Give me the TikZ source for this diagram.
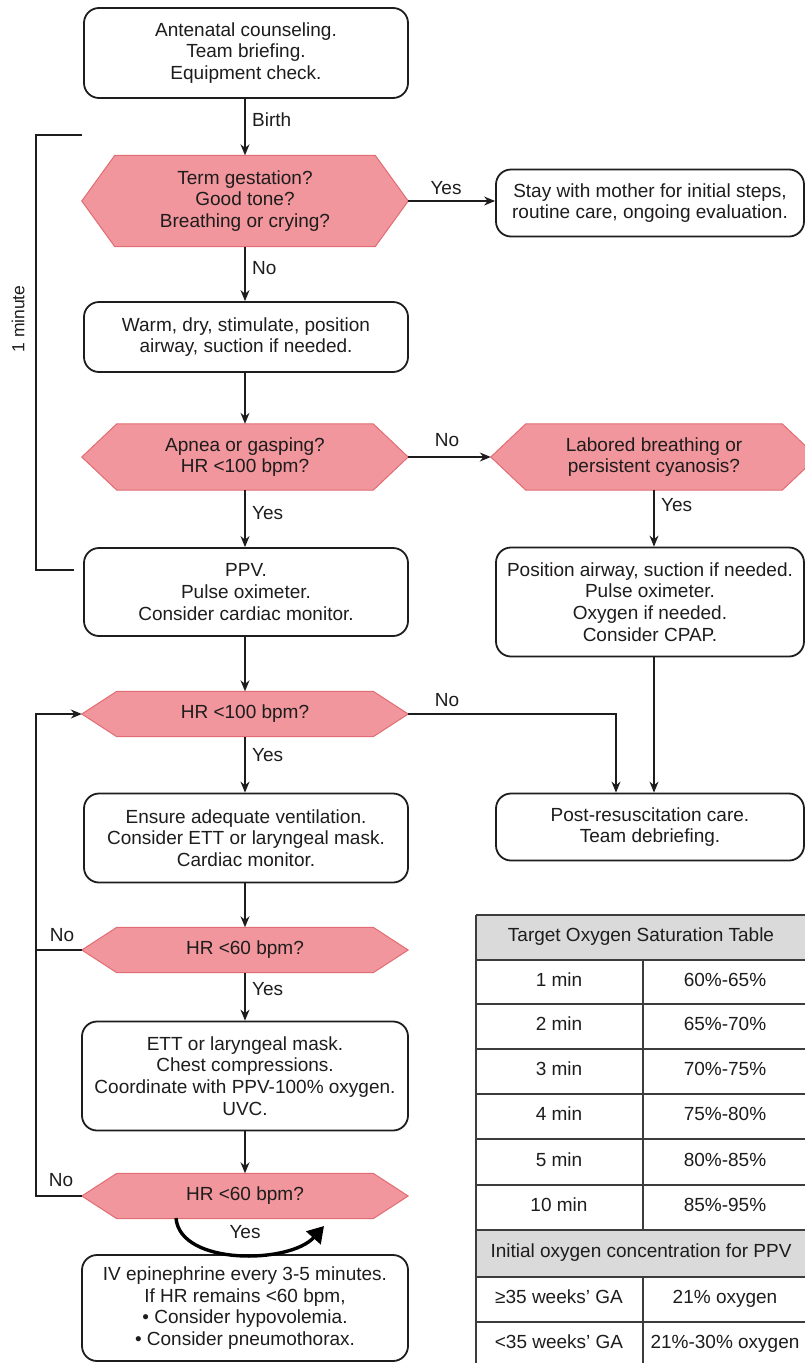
\documentclass[tikz,border=0pt]{standalone}
\usepackage{fontspec}
\setmainfont{Liberation Sans}
\usetikzlibrary{arrows.meta,backgrounds,calc}
\definecolor{hexfill}{RGB}{240,150,156}
\definecolor{hexline}{RGB}{226,108,115}
\definecolor{ink}{RGB}{30,28,28}
\definecolor{headgray}{RGB}{218,218,218}
\definecolor{tabline}{RGB}{60,60,60}
\newcommand\hexpath[2]{%
  \path[hexshape] ([xshift=#2]#1.north west) -- ([xshift=-#2]#1.north east) -- (#1.east)
   -- ([xshift=-#2]#1.south east) -- ([xshift=#2]#1.south west) -- (#1.west) -- cycle;}
\begin{document}
\begin{tikzpicture}[x=1pt,y=-1pt,
  txt/.style={font=\fontsize{19}{21.8}\selectfont, text=ink, align=center},
  rbox/.style={txt, draw=ink, line width=1.8pt, rounded corners=15pt, fill=white, inner sep=2pt},
  hexa/.style={txt, inner sep=0pt},
  hexshape/.style={fill=hexfill, draw=hexline, line width=1pt},
  conn/.style={draw=ink, line width=1.4pt},
  arr/.style={conn, -{Stealth[length=11pt,width=9pt]}},
  lbl/.style={txt, inner sep=1pt},
  cell/.style={txt, inner sep=0pt, text height=13.5pt, text depth=4pt},
  tline/.style={draw=tabline, line width=1.5pt},
]
\useasboundingbox (0,0) rectangle (805,1363);

% boxes
\node[rbox, minimum width=324pt, minimum height=90pt] (b1) at (246,53)
  {Antenatal counseling.\\Team briefing.\\Equipment check.};
\node[hexa, minimum width=326pt, minimum height=91pt] (h1) at (245,201)
  {Term gestation?\\Good tone?\\Breathing or crying?};
\node[rbox, minimum width=308pt, minimum height=67pt] (b2) at (650,203)
  {Stay with mother for initial steps,\\routine care, ongoing evaluation.};
\node[rbox, minimum width=324pt, minimum height=70pt] (b3) at (246,337)
  {Warm, dry, stimulate, position\\airway, suction if needed.};
\node[hexa, minimum width=326pt, minimum height=66pt] (h2) at (245,457)
  {Apnea or gasping?\\HR <100 bpm?};
\node[hexa, minimum width=326pt, minimum height=66pt] (h3) at (654,457)
  {Labored breathing or\\persistent cyanosis?};
\node[rbox, minimum width=324pt, minimum height=88pt] (b4) at (246,592)
  {PPV.\\Pulse oximeter.\\Consider cardiac monitor.};
\node[rbox, minimum width=308pt, minimum height=109pt] (b5) at (650,602)
  {Position airway, suction if needed.\\Pulse oximeter.\\Oxygen if needed.\\Consider CPAP.};
\node[hexa, minimum width=326pt, minimum height=45pt] (h4) at (245,714)
  {HR <100 bpm?};
\node[rbox, minimum width=324pt, minimum height=89pt] (b6) at (246,838)
  {Ensure adequate ventilation.\\Consider ETT or laryngeal mask.\\Cardiac monitor.};
\node[rbox, minimum width=308pt, minimum height=67pt] (b9) at (650,827)
  {Post-resuscitation care.\\Team debriefing.};
\node[hexa, minimum width=326pt, minimum height=45pt] (h5) at (245,950)
  {HR <60 bpm?};
\node[rbox, minimum width=326pt, minimum height=109pt] (b7) at (245,1076)
  {ETT or laryngeal mask.\\Chest compressions.\\Coordinate with PPV-100\% oxygen.\\UVC.};
\node[hexa, minimum width=326pt, minimum height=45pt] (h6) at (245,1196)
  {HR <60 bpm?};
\node[rbox, minimum width=326pt, minimum height=106pt] (b8) at (245,1308)
  {IV epinephrine every 3-5 minutes.\\If HR remains <60 bpm,\\• Consider hypovolemia.\\• Consider pneumothorax.};

\begin{scope}[on background layer]
  \hexpath{h1}{33pt}
  \hexpath{h2}{35pt}
  \hexpath{h3}{35pt}
  \hexpath{h4}{35pt}
  \hexpath{h5}{35pt}
  \hexpath{h6}{35pt}
\end{scope}

% connectors
\draw[arr] (b1.south -| h1.north) -- (h1.north);
\node[lbl, anchor=west] (lbirth) at (251,120) {Birth};
\draw[arr] (h1.east) -- (b2.west |- h1.east);
\node[lbl] (ly1) at (446,188) {Yes};
\draw[arr] (h1.south) -- (h1.south |- b3.north);
\node[lbl, anchor=west] (ln1) at (251,268) {No};
\draw[arr] (b3.south -| h2.north) -- (h2.north);
\draw[arr] (h2.east) -- (h3.west);
\node[lbl] (ln2) at (447,440) {No};
\draw[arr] (h3.south) -- (h3.south |- b5.north);
\node[lbl, anchor=west] (ly3) at (660,505) {Yes};
\draw[arr] (h2.south) -- (h2.south |- b4.north);
\node[lbl, anchor=west] (ly2) at (251,513) {Yes};
\draw[arr] (b4.south -| h4.north) -- (h4.north);
\coordinate (c4) at (616,714);
\draw[arr] (h4.east) -- (c4) -- (c4 |- b9.north);
\node[lbl] (ln4) at (447,700) {No};
\draw[arr] (b5.south -| h3.south) -- (h3.south |- b9.north);
\draw[arr] (h4.south) -- (h4.south |- b6.north);
\node[lbl, anchor=west] (ly4) at (251,755) {Yes};
\draw[arr] (b6.south -| h5.north) -- (h5.north);
\draw[arr] (h5.south) -- (h5.south |- b7.north);
\node[lbl, anchor=west] (ly5) at (251,989) {Yes};
\draw[arr] (b7.south -| h6.north) -- (h6.north);

% loop back
\coordinate (lx5) at (36,950);
\coordinate (lx6) at (36,1196);
\coordinate (lx4) at (36,714);
\draw[arr] (h6.west) -- (lx6) -- (lx4) -- (h4.west);
\draw[conn] (h5.west) -- (lx5);
\node[lbl] (ln5) at (62,935) {No};
\node[lbl] (ln6) at (61,1180) {No};

% curved yes arrow
\coordinate (ya) at (176,1218);
\coordinate (yb) at (324,1226);
\draw[draw=black, line width=3.4pt, -{Triangle[length=16pt,width=19pt]}]
  (ya) .. controls (180,1266) and (290,1264) .. (yb);
\node[lbl] (ly6) at (245,1232) {Yes};

% one-minute bracket
\coordinate (bt1) at (82,135);
\coordinate (bt2) at (36,135);
\coordinate (bt3) at (36,570);
\coordinate (bt4) at (74,570);
\draw[conn] (bt1) -- (bt2) -- (bt3) -- (bt4);
\node[txt, font=\fontsize{17.5}{20}\selectfont, rotate=90] (onemin) at (18,319) {1 minute};

% table
\fill[headgray] (476,915) rectangle (806,960);
\fill[headgray] (476,1230) rectangle (806,1277);
\foreach \yy in {915,960,1004,1049,1094,1139,1185,1230,1277,1322}
  \draw[tline] (476,\yy) -- (806,\yy);
\draw[tline] (476,915) -- (476,1370);
\draw[tline] (806,915) -- (806,1370);
\draw[tline] (643,960) -- (643,1230);
\draw[tline] (643,1277) -- (643,1370);
\node[cell] (th1) at (641,937) {Target Oxygen Saturation Table};
\node[cell] (tl1) at (559,982) {1 min};
\node[cell] (tr1) at (725,982) {60\%-65\%};
\node[cell] (tl2) at (559,1026) {2 min};
\node[cell] (tr2) at (725,1026) {65\%-70\%};
\node[cell] (tl3) at (559,1071) {3 min};
\node[cell] (tr3) at (725,1071) {70\%-75\%};
\node[cell] (tl4) at (559,1116) {4 min};
\node[cell] (tr4) at (725,1116) {75\%-80\%};
\node[cell] (tl5) at (559,1162) {5 min};
\node[cell] (tr5) at (725,1162) {80\%-85\%};
\node[cell] (tl6) at (559,1207) {10 min};
\node[cell] (tr6) at (725,1207) {85\%-95\%};
\node[cell] (th2) at (641,1253) {Initial oxygen concentration for PPV};
\node[cell] (tl7) at (559,1299) {≥35 weeks’ GA};
\node[cell] (tr7) at (725,1299) {21\% oxygen};
\node[cell] (tl8) at (559,1344) {<35 weeks’ GA};
\node[cell] (tr8) at (725,1344) {21\%-30\% oxygen};
\end{tikzpicture}
\end{document}
